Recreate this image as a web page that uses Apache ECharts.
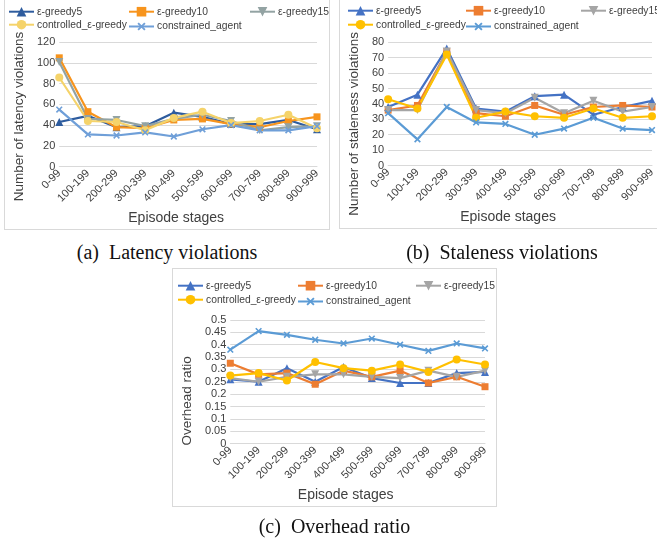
<!DOCTYPE html>
<html>
<head>
<meta charset="utf-8">
<script src="https://cdn.jsdelivr.net/npm/echarts@6/dist/echarts.min.js"></script>
<style>
  html, body { margin:0; padding:0; background:#fff; width:657px; height:542px; overflow:hidden; position:relative; }
  .chart { position:absolute; }
  .box { position:absolute; border:1px solid #d9d9d9; box-sizing:border-box; pointer-events:none; }
  .cap { position:absolute; font-family:"Liberation Serif","Times New Roman",serif; font-size:20px; color:#111; text-align:center; white-space:pre; }
</style>
</head>
<body>
<div id="ca" class="chart" style="left:4px;top:-2px;width:326px;height:232px;"></div>
<div class="box" style="left:4px;top:-2px;width:326px;height:232px;"></div>
<div id="cb" class="chart" style="left:339px;top:-2px;width:326px;height:231px;"></div>
<div class="box" style="left:339px;top:-2px;width:326px;height:231px;"></div>
<div id="cc" class="chart" style="left:172px;top:268px;width:325px;height:239px;"></div>
<div class="box" style="left:172px;top:268px;width:325px;height:239px;"></div>
<div class="cap" style="left:4px;width:326px;top:239px;line-height:26px;">(a)  Latency violations</div>
<div class="cap" style="left:339px;width:326px;top:239px;line-height:26px;">(b)  Staleness violations</div>
<div class="cap" style="left:172px;width:325px;top:513px;line-height:26px;">(c)  Overhead ratio</div>
<script>
// ---------- data ----------
const categories = ['0-99','100-199','200-299','300-399','400-499','500-599','600-699','700-799','800-899','900-999'];
const seriesNames = ['ε-greedy5','ε-greedy10','ε-greedy15','controlled_ε-greedy','constrained_agent'];

// (a) Latency violations
const latGreedy5      = [43, 49, 38, 39, 52, 48, 41, 41, 45, 36];
const latGreedy10     = [105, 53, 38, 37, 45, 46, 41, 38, 44, 48];
const latGreedy15     = [101, 46, 45, 39, 46, 50, 44, 35, 38, 39];
const latControlled   = [86, 44, 43, 35, 47, 53, 42, 44, 50, 37];
const latConstrained  = [55, 31, 30, 33, 29, 36, 40, 35, 35, 39];

// (b) Staleness violations
const staGreedy5      = [38, 46, 76, 37, 35, 45, 46, 33, 38, 42];
const staGreedy10     = [36, 39, 74, 34, 32, 39, 33, 38, 39, 38];
const staGreedy15     = [36, 36, 74, 36, 34, 44, 34, 42, 35, 38];
const staControlled   = [43, 37, 72, 31, 35, 32, 31, 37, 31, 32];
const staConstrained  = [34, 17, 38, 28, 27, 20, 24, 31, 24, 23];

// (c) Overhead ratio
const ovhGreedy5      = [0.26, 0.25, 0.305, 0.25, 0.31, 0.265, 0.245, 0.245, 0.285, 0.29];
const ovhGreedy10     = [0.325, 0.28, 0.285, 0.24, 0.295, 0.27, 0.295, 0.245, 0.27, 0.23];
const ovhGreedy15     = [0.265, 0.25, 0.27, 0.28, 0.28, 0.27, 0.265, 0.295, 0.27, 0.295];
const ovhControlled   = [0.275, 0.285, 0.255, 0.33, 0.305, 0.295, 0.32, 0.29, 0.34, 0.32];
const ovhConstrained  = [0.38, 0.455, 0.44, 0.42, 0.405, 0.425, 0.4, 0.375, 0.405, 0.385];

// ---------- styles ----------
const colorsA = ['#2E5C9E', '#F7941D', '#93A3A3', '#F5D36A', '#6F9FD8'];
const colorsBC = ['#4472C4', '#ED7D31', '#A5A5A5', '#FFC000', '#5B9BD5'];
const xPath = 'path://M4,0L6,0L6,4L10,4L10,6L6,6L6,10L4,10L4,6L0,6L0,4L4,4Z';
const symbols = ['triangle', 'rect', 'triangle', 'circle', xPath];
const symRot = [0, 0, 180, 0, 45];
const symSize = [8, 7, 8, 8, 8];
const FONT = '"Liberation Sans", Arial, sans-serif';
const TXT = '#404040';

function build(cfg) {
  const legends = cfg.legendPos.map((p, i) => ({
    data: [seriesNames[i]],
    left: p[0], top: p[1],
    itemWidth: 25, itemHeight: 12, itemGap: 0,
    padding: 0,
    textStyle: { fontFamily: FONT, fontSize: 10.3, color: TXT, padding: [0,0,0,-2] }
  }));
  return {
    animation: false,
    textStyle: { fontFamily: FONT },
    legend: legends,
    grid: cfg.grid,
    xAxis: {
      type: 'category', data: categories, boundaryGap: false,
      axisLine: { show: true, lineStyle: { color: '#d9d9d9', width: 1 } },
      axisTick: { show: false },
      axisLabel: { rotate: 45, interval: 0, fontSize: 11, color: TXT, fontFamily: FONT, margin: 5 },
      splitLine: { show: false },
      name: 'Episode stages', nameLocation: 'middle', nameGap: cfg.xNameGap,
      nameTextStyle: { fontSize: 14, color: TXT, fontFamily: FONT, padding: [0, 24, 0, 0] }
    },
    yAxis: {
      type: 'value', min: cfg.yMin, max: cfg.yMax, interval: cfg.yInt,
      axisLine: { show: false }, axisTick: { show: false },
      axisLabel: { fontSize: 11, color: TXT, fontFamily: FONT, margin: 4 },
      splitLine: { lineStyle: { color: '#d9d9d9', width: 1 } },
      name: cfg.yName, nameLocation: 'middle', nameGap: cfg.yNameGap,
      nameTextStyle: { fontSize: 13.5, color: TXT, fontFamily: FONT, padding: [0, cfg.yShift, 0, 0] }
    },
    series: cfg.data.map((d, i) => ({
      name: seriesNames[i], type: 'line', data: d,
      symbol: symbols[i], symbolRotate: symRot[i], symbolSize: symSize[i],
      showAllSymbol: true,
      lineStyle: { width: 2.2, color: cfg.colors[i] },
      itemStyle: { color: cfg.colors[i] },
      emphasis: { disabled: true }
    }))
  };
}

const chartA = echarts.init(document.getElementById('ca'));
chartA.setOption(build({
  colors: colorsA,
  data: [latGreedy5, latGreedy10, latGreedy15, latControlled, latConstrained],
  grid: { left: 48, right: 13, top: 44.3, bottom: 62.3 },
  yMin: 0, yMax: 120, yInt: 20,
  yName: 'Number of latency violations', yNameGap: 26, yShift: 24, xNameGap: 42,
  legendPos: [[4, 8.7], [124, 8.7], [245, 8.7], [4, 21.7], [124, 21.7]]
}));

const chartB = echarts.init(document.getElementById('cb'));
chartB.setOption(build({
  colors: colorsBC,
  data: [staGreedy5, staGreedy10, staGreedy15, staControlled, staConstrained],
  grid: { left: 48, right: 13, top: 44.3, bottom: 62.3 },
  yMin: 0, yMax: 80, yInt: 10,
  yName: 'Number of staleness violations', yNameGap: 27, yShift: 40, xNameGap: 42,
  legendPos: [[8, 7.7], [126, 7.7], [241, 7.7], [8, 21.7], [126, 21.7]]
}));

const chartC = echarts.init(document.getElementById('cc'));
chartC.setOption(build({
  colors: colorsBC,
  data: [ovhGreedy5, ovhGreedy10, ovhGreedy15, ovhControlled, ovhConstrained],
  grid: { left: 49.7, right: 12, top: 52, bottom: 62 },
  yMin: 0, yMax: 0.5, yInt: 0.05,
  yName: 'Overhead ratio', yNameGap: 29, yShift: 38, xNameGap: 41,
  legendPos: [[5, 12.7], [125, 12.7], [243, 12.7], [5, 26.7], [125, 26.7]]
}));
</script>
</body>
</html>
